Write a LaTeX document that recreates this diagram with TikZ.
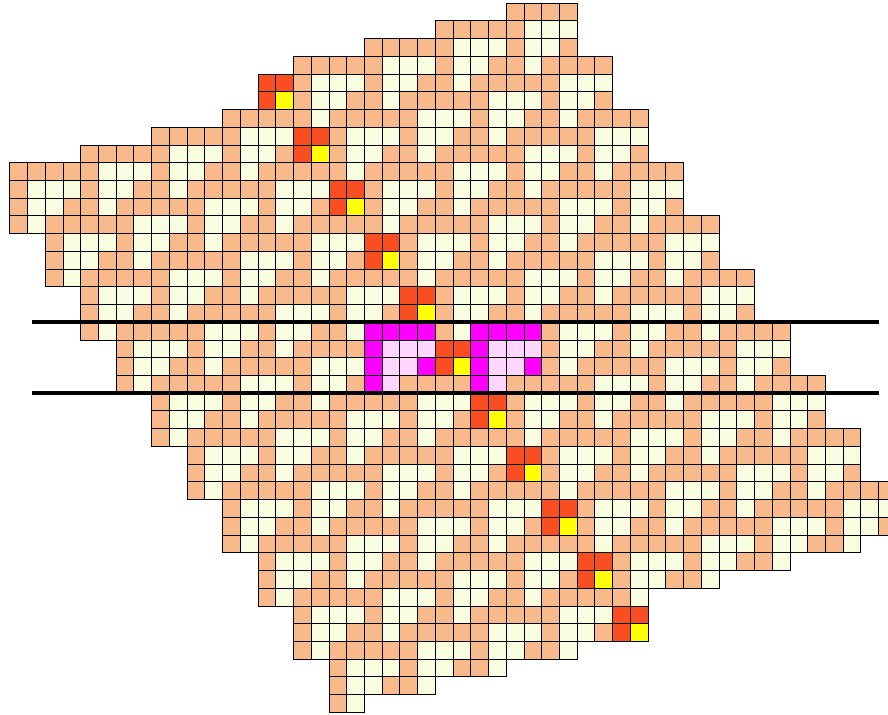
\documentclass[tikz,border=0pt]{standalone}
\usepackage{tikz}
\definecolor{colP}{HTML}{F8BA8A}
\definecolor{colC}{HTML}{F8FDE0}
\definecolor{colR}{HTML}{F94D22}
\definecolor{colY}{HTML}{FFFF00}
\definecolor{colM}{HTML}{FF00FF}
\definecolor{colK}{HTML}{FFD6FF}
\tikzset{
  cell/.style={draw=black, line width=0.7pt, fill=col#1},
  cutline/.style={draw=black, line width=3.5pt}
}
\newcommand\gridrow[3]{\foreach \k [count=\i from #2] in {#3}{\path[cell=\k] (\i,#1) rectangle ++(1,1);}}
\begin{document}
\begin{tikzpicture}[x=0.5cm,y=-0.5cm]
\clip (-0.553,-0.175) rectangle (49.53,40.15);
\gridrow{0}{28}{P,P,P,P}
\gridrow{1}{24}{P,P,P,P,P,C,C,C}
\gridrow{2}{20}{P,P,P,P,P,C,C,C,P,C,C,P}
\gridrow{3}{16}{P,P,P,P,P,C,C,C,P,C,C,P,P,C,P,P,P,P}
\gridrow{4}{14}{R,R,P,C,C,C,P,C,C,P,P,C,P,P,P,P,P,C,C,C}
\gridrow{5}{14}{R,Y,P,C,C,P,P,C,P,P,P,P,P,C,C,C,P,C,C,P}
\gridrow{6}{12}{P,P,P,P,P,C,P,P,P,P,P,C,C,C,P,C,C,P,P,C,P,P,P,P}
\gridrow{7}{8}{P,P,P,P,P,C,C,C,R,R,P,C,C,C,P,C,C,P,P,C,P,P,P,P,P,C,C,C}
\gridrow{8}{4}{P,P,P,P,P,C,C,C,P,C,C,P,R,Y,P,C,C,P,P,C,P,P,P,P,P,C,C,C,P,C,C,P}
\gridrow{9}{0}{P,P,P,P,P,C,C,C,P,C,C,P,P,C,P,P,P,P,P,C,P,P,P,P,P,C,C,C,P,C,C,P,P,C,P,P,P,P}
\gridrow{10}{0}{P,C,C,C,P,C,C,P,P,C,P,P,P,P,P,C,C,C,R,R,P,C,C,C,P,C,C,P,P,C,P,P,P,P,P,C,C,C}
\gridrow{11}{0}{P,C,C,P,P,C,P,P,P,P,P,C,C,C,P,C,C,P,R,Y,P,C,C,P,P,C,P,P,P,P,P,C,C,C,P,C,C,P}
\gridrow{12}{0}{P,C,P,P,P,P,P,C,C,C,P,C,C,P,P,C,P,P,P,P,P,C,P,P,P,P,P,C,C,C,P,C,C,P,P,C,P,P,P,P}
\gridrow{13}{2}{P,C,C,C,P,C,C,P,P,C,P,P,P,P,P,C,C,C,R,R,P,C,C,C,P,C,C,P,P,C,P,P,P,P,P,C,C,C}
\gridrow{14}{2}{P,C,C,P,P,C,P,P,P,P,P,C,C,C,P,C,C,P,R,Y,P,C,C,P,P,C,P,P,P,P,P,C,C,C,P,C,C,P}
\gridrow{15}{2}{P,C,P,P,P,P,P,C,C,C,P,C,C,P,P,C,P,P,P,P,P,C,P,P,P,P,P,C,C,C,P,C,C,P,P,C,P,P,P,P}
\gridrow{16}{4}{P,C,C,C,P,C,C,P,P,C,P,P,P,P,P,C,C,C,R,R,P,C,C,C,P,C,C,P,P,C,P,P,P,P,P,C,C,C}
\gridrow{17}{4}{P,C,C,P,P,C,P,P,P,P,P,C,C,C,P,C,C,P,R,Y,P,C,C,P,P,C,P,P,P,P,P,C,C,C,P,C,C,P}
\gridrow{18}{4}{P,C,P,P,P,P,P,C,C,C,P,C,C,P,P,C,M,M,M,M,P,C,M,M,M,M,P,C,C,C,P,C,C,P,P,C,P,P,P,P}
\gridrow{19}{6}{P,C,C,C,P,C,C,P,P,C,P,P,P,P,M,K,K,K,R,R,M,K,K,K,P,C,C,P,P,C,P,P,P,P,P,C,C,C}
\gridrow{20}{6}{P,C,C,P,P,C,P,P,P,P,P,C,C,C,M,K,K,M,R,Y,M,K,K,M,P,C,P,P,P,P,P,C,C,C,P,C,C,P}
\gridrow{21}{6}{P,C,P,P,P,P,P,C,C,C,P,C,C,P,M,K,P,P,P,P,M,K,P,P,P,P,P,C,C,C,P,C,C,P,P,C,P,P,P,P}
\gridrow{22}{8}{P,C,C,C,P,C,C,P,P,C,P,P,P,P,P,C,C,C,R,R,P,C,C,C,P,C,C,P,P,C,P,P,P,P,P,C,C,C}
\gridrow{23}{8}{P,C,C,P,P,C,P,P,P,P,P,C,C,C,P,C,C,P,R,Y,P,C,C,P,P,C,P,P,P,P,P,C,C,C,P,C,C,P}
\gridrow{24}{8}{P,C,P,P,P,P,P,C,C,C,P,C,C,P,P,C,P,P,P,P,P,C,P,P,P,P,P,C,C,C,P,C,C,P,P,C,P,P,P,P}
\gridrow{25}{10}{P,C,C,C,P,C,C,P,P,C,P,P,P,P,P,C,C,C,R,R,P,C,C,C,P,C,C,P,P,C,P,P,P,P,P,C,C,C}
\gridrow{26}{10}{P,C,C,P,P,C,P,P,P,P,P,C,C,C,P,C,C,P,R,Y,P,C,C,P,P,C,P,P,P,P,P,C,C,C,P,C,C,P}
\gridrow{27}{10}{P,C,P,P,P,P,P,C,C,C,P,C,C,P,P,C,P,P,P,P,P,C,P,P,P,P,P,C,C,C,P,C,C,P,P,C,P,P,P,P}
\gridrow{28}{12}{P,C,C,C,P,C,C,P,P,C,P,P,P,P,P,C,C,C,R,R,P,C,C,C,P,C,C,P,P,C,P,P,P,P,P,C,C,C}
\gridrow{29}{12}{P,C,C,P,P,C,P,P,P,P,P,C,C,C,P,C,C,P,R,Y,P,C,C,P,P,C,P,P,P,P,P,C,C,C,P,C,C,P}
\gridrow{30}{12}{P,C,P,P,P,P,P,C,C,C,P,C,C,P,P,C,P,P,P,P,P,C,P,P,P,P,P,C,C,C,P,C,C,P,P,C}
\gridrow{31}{14}{P,C,C,C,P,C,C,P,P,C,P,P,P,P,P,C,C,C,R,R,P,C,C,C,P,C,C,P,P,C}
\gridrow{32}{14}{P,C,C,P,P,C,P,P,P,P,P,C,C,C,P,C,C,P,R,Y,P,C,C,P,P,C}
\gridrow{33}{14}{P,C,P,P,P,P,P,C,C,C,P,C,C,P,P,C,P,P,P,P,P,C}
\gridrow{34}{16}{P,C,C,C,P,C,C,P,P,C,P,P,P,P,P,C,C,C,R,R}
\gridrow{35}{16}{P,C,C,P,P,C,P,P,P,P,P,C,C,C,P,C,C,P,R,Y}
\gridrow{36}{16}{P,C,P,P,P,P,P,C,C,C,P,C,C,P,P,C}
\gridrow{37}{18}{P,C,C,C,P,C,C,P,P,C}
\gridrow{38}{18}{P,C,C,P,P,C}
\gridrow{39}{18}{P,C}
\coordinate (la) at (1.25,18);
\coordinate (lb) at (49,18);
\coordinate (lc) at (1.25,22);
\coordinate (ld) at (49,22);
\draw[cutline] (la) -- (lb);
\draw[cutline] (lc) -- (ld);
\end{tikzpicture}
\end{document}
